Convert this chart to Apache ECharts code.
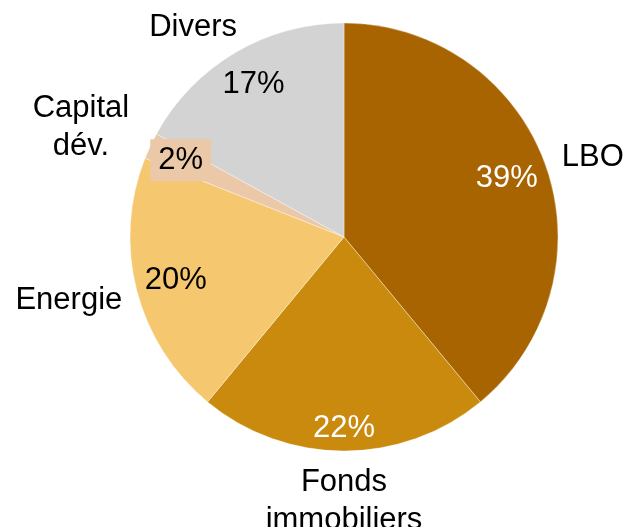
<!DOCTYPE html>
<html>
<head>
<meta charset="utf-8">
<script src="https://cdn.jsdelivr.net/npm/echarts@6/dist/echarts.min.js"></script>
<style>
  html, body { margin: 0; padding: 0; background: #fff; }
  #chart { width: 627px; height: 527px; }
</style>
</head>
<body>
<div id="chart"></div>
<script>
// Allocation by strategy (share of total, %)
const categories = ['LBO', 'Fonds\nimmobiliers', 'Energie', 'Capital\ndév.', 'Divers'];
const shares = [39, 22, 20, 2, 17];

const sliceColors = ['#A86400', '#C98A0E', '#F5C76F', '#EBC8A8', '#D3D3D3'];
const valueLabelColors = ['#ffffff', '#ffffff', '#000000', '#000000', '#000000'];

const CX = 344, CY = 237, R = 214;
const FONT = '"Liberation Sans", Arial, sans-serif';
const FONT_SIZE = 31;
const BOX_PAD = [4, 8];

// mid angle of each slice, measured clockwise from 12 o'clock
const total = shares.reduce((a, b) => a + b, 0);
const midAngles = [];
let acc = 0;
shares.forEach(v => { midAngles.push((acc + v / 2) / total * 2 * Math.PI); acc += v; });

function unit(a) {
  return [Math.sin(a), -Math.cos(a)];
}
// half-size of a box projected on direction u
function extent(u, w, h) {
  return Math.abs(u[0]) * w / 2 + Math.abs(u[1]) * h / 2;
}

// value labels sit just inside the rim (box padding ignored)
function valueLabelLayout(p) {
  const u = unit(midAngles[p.dataIndex]);
  const padded = p.dataIndex === 3;
  const w = p.labelRect.width - (padded ? 2 * BOX_PAD[1] : 0);
  const h = p.labelRect.height - (padded ? 2 * BOX_PAD[0] : 0);
  const d = R - 6 - extent(u, w, h);
  return { x: CX + u[0] * d, y: CY + u[1] * d, align: 'center', verticalAlign: 'middle' };
}

// category labels sit just outside the rim, eased slightly toward the
// horizontal and kept inside the canvas
function nameLabelLayout(p) {
  let a = midAngles[p.dataIndex];
  const side = a < Math.PI ? Math.PI / 2 : 3 * Math.PI / 2;
  if (Math.abs(Math.sin(a)) > 0.3) a += 0.1 * (side - a);
  const u = unit(a);
  const w = p.labelRect.width, h = p.labelRect.height;
  const gap = R + 12;
  const d = gap + extent(u, w, h);
  let x = CX + u[0] * d, y = CY + u[1] * d;
  const top = 8;
  if (y - h / 2 < top) {
    y = top + h / 2;
    const dy = (y + FONT_SIZE / 2) - CY;
    const g = R + 8;
    const dx = Math.sqrt(Math.max(g * g - dy * dy, 0));
    x = u[0] < 0 ? CX - dx - w / 2 : CX + dx + w / 2;
  }
  return { x: x, y: y, align: 'center', verticalAlign: 'middle' };
}

const chart = echarts.init(document.getElementById('chart'), null, { renderer: 'canvas' });

chart.setOption({
  animation: false,
  series: [
    {
      type: 'pie',
      center: [CX, CY],
      radius: [0, R],
      startAngle: 90,
      clockwise: true,
      avoidLabelOverlap: false,
      emphasis: { disabled: true },
      itemStyle: { borderColor: 'rgba(255,255,255,0.6)', borderWidth: 0.6 },
      label: {
        show: true,
        position: 'inside',
        formatter: '{c}%',
        fontFamily: FONT,
        fontSize: FONT_SIZE,
        lineHeight: 34
      },
      labelLine: { show: false },
      labelLayout: valueLabelLayout,
      data: shares.map((v, i) => ({
        value: v,
        name: categories[i],
        itemStyle: { color: sliceColors[i] },
        label: i === 3
          ? { color: valueLabelColors[i], backgroundColor: sliceColors[i], padding: BOX_PAD }
          : { color: valueLabelColors[i] }
      }))
    },
    {
      type: 'pie',
      center: [CX, CY],
      radius: [0, R],
      startAngle: 90,
      clockwise: true,
      silent: true,
      avoidLabelOverlap: false,
      itemStyle: { color: 'rgba(0,0,0,0)' },
      label: {
        show: true,
        position: 'outside',
        formatter: '{b}',
        color: '#000',
        fontFamily: FONT,
        fontSize: FONT_SIZE,
        lineHeight: 38,
        align: 'center'
      },
      labelLine: { show: false },
      labelLayout: nameLabelLayout,
      data: shares.map((v, i) => ({ value: v, name: categories[i] }))
    }
  ]
});
</script>
</body>
</html>
